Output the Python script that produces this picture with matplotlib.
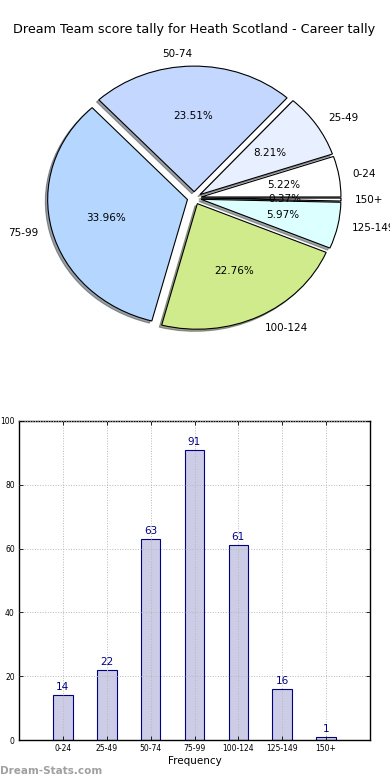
import matplotlib
matplotlib.use("Agg")
import matplotlib.pyplot as plt

categories = ["0-24", "25-49", "50-74", "75-99", "100-124", "125-149", "150+"]
counts = [14, 22, 63, 91, 61, 16, 1]
pie_colors = ["#ffffff", "#e8f0ff", "#c4d8ff", "#b4d6ff", "#d0eb8c", "#dcffff", "#ffffff"]
yticks = [0, 20, 40, 60, 80, 100]
title = "Dream Team score tally for Heath Scotland - Career tally"

fig = plt.figure(figsize=(3.9, 7.8), dpi=100)

# Pie chart
axp = fig.add_axes([19.5 / 390, 1 - 355 / 780, 349.5 / 390, 314 / 780])
wedges, texts, autotexts = axp.pie(
    counts, labels=categories, colors=pie_colors, explode=[0.05] * len(counts),
    autopct="%1.2f%%", shadow=dict(ox=-0.012, oy=-0.012, label="_nolegend_"),
    startangle=0, counterclock=True,
    wedgeprops=dict(edgecolor="black", linewidth=0.8),
    textprops=dict(fontsize=7.5),
)
axp.set_aspect("auto")
axp.set_xlim(-1.25, 1.25)
axp.set_ylim(-1.25, 1.25)
axp.axis("off")

fig.text(194 / 390, 1 - 30 / 780, title, ha="center", va="center", fontsize=9.2)

# Bar chart
axb = fig.add_axes([19 / 390, 1 - 740 / 780, 351 / 390, 319 / 780])
x = list(range(len(categories)))
bars = axb.bar(x, counts, width=0.45, color="#cccce6", edgecolor="#000080", linewidth=0.8, zorder=2)
for xi, c in zip(x, counts):
    axb.text(xi, c + 1, str(c), ha="center", va="bottom", color="#000080", fontsize=7.5)
axb.set_xlim(-1, 7)
axb.set_ylim(0, 100)
axb.set_xticks(x)
axb.set_xticklabels(categories, fontsize=5.5)
axb.set_yticks(yticks)
axb.set_yticklabels([str(v) for v in yticks], fontsize=5.5)
axb.tick_params(direction="in", top=True, right=True, length=3, width=0.6, pad=3)
axb.grid(True, color="#b8b8b8", linestyle=":", linewidth=0.7, zorder=3)
axb.set_axisbelow(False)
axb.set_xlabel("Frequency", fontsize=7.5, labelpad=2)
for s in axb.spines.values():
    s.set_linewidth(1.0)

fig.text(0 / 390, 1 - 771 / 780, "Dream-Stats.com", ha="left", va="center",
         fontsize=7.5, fontweight="bold", color="#a0a0a0")

fig.savefig("out.png", dpi=100)
